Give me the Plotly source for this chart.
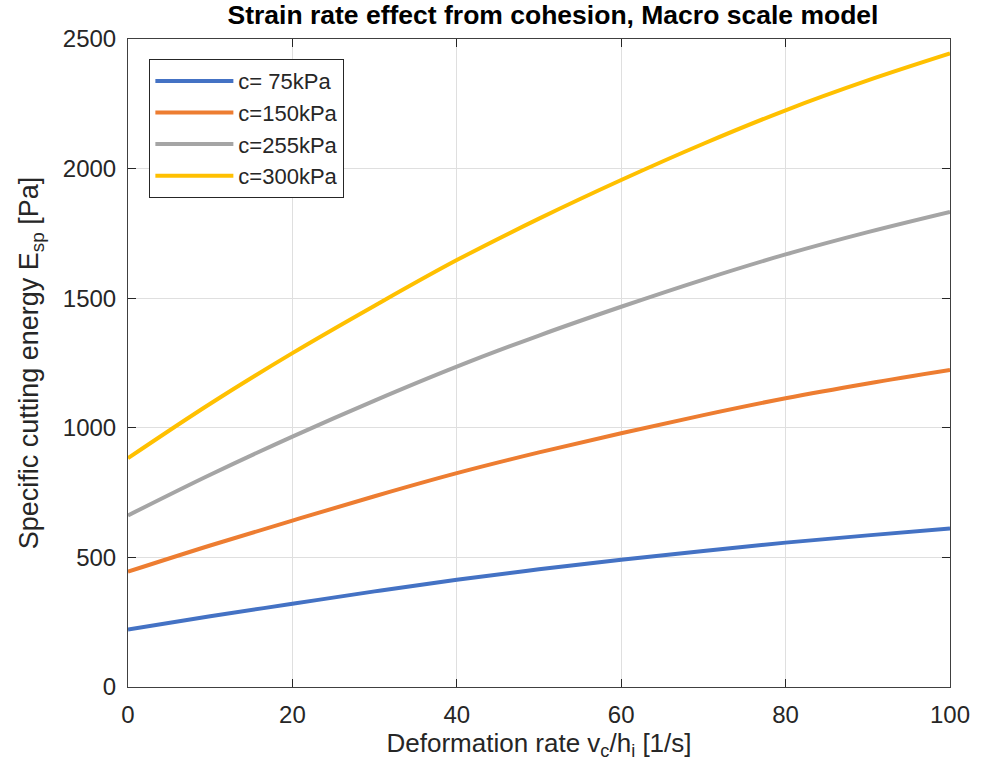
import plotly.graph_objects as go

x_rate = [0, 10, 20, 30, 40, 50, 60, 70, 80, 90, 100]
e_c75 = [222, 273, 321, 369, 414, 454, 491, 525, 557, 585, 612]
e_c150 = [445, 546, 642, 736, 825, 905, 979, 1049, 1114, 1171, 1223]
e_c255 = [662, 819, 966, 1105, 1236, 1356, 1467, 1572, 1669, 1755, 1833]
e_c300 = [883, 1093, 1288, 1471, 1647, 1807, 1956, 2096, 2225, 2340, 2444]

names = ["c= 75kPa", "c=150kPa", "c=255kPa", "c=300kPa"]
colors = ["#4472C4", "#ED7D31", "#A5A5A5", "#FFC000"]
series = [e_c75, e_c150, e_c255, e_c300]

x_ticks = [0, 20, 40, 60, 80, 100]
y_ticks = [0, 500, 1000, 1500, 2000, 2500]

FONT = "Liberation Sans, Arial, Helvetica"

fig = go.Figure()
for n, c, s in zip(names, colors, series):
    fig.add_trace(go.Scatter(x=x_rate, y=s, mode="lines", name=n,
                             line=dict(color=c, width=4, shape="spline", smoothing=1)))

axis_common = dict(
    showline=True, linecolor="#404040", linewidth=1, mirror="ticks",
    ticks="inside", ticklen=8, tickcolor="#262626",
    showgrid=True, gridcolor="#DFDFDF", gridwidth=1, zeroline=False,
    tickfont=dict(family=FONT, size=24, color="#262626"),
)

fig.update_layout(
    width=982, height=776,
    margin=dict(l=128, r=25, t=39, b=89),
    paper_bgcolor="white", plot_bgcolor="white",
    title=dict(text="<b>Strain rate effect from cohesion, Macro scale model</b>",
               xref="paper", x=0.517, xanchor="center", y=0.981, yanchor="middle",
               font=dict(family=FONT, size=26.5, color="black")),
    xaxis=dict(range=[0, 100], tickvals=x_ticks, ticklabelstandoff=6,
               title=dict(text="Deformation rate v<sub>c</sub>/h<sub>i</sub> [1/s]",
                          font=dict(family=FONT, size=26, color="#262626"),
                          standoff=6),
               **axis_common),
    yaxis=dict(range=[0, 2500], tickvals=y_ticks, ticklabelstandoff=6,
               title=dict(text="Specific cutting energy E<sub>sp</sub> [Pa]",
                          font=dict(family=FONT, size=27, color="#262626"),
                          standoff=16),
               **axis_common),
    legend=dict(x=0.026, y=0.969, xanchor="left", yanchor="top",
                bgcolor="white", bordercolor="#262626", borderwidth=1,
                font=dict(family=FONT, size=22, color="#262626"),
                tracegroupgap=0, itemwidth=78),
    showlegend=True,
)

fig.write_html("out.html")
